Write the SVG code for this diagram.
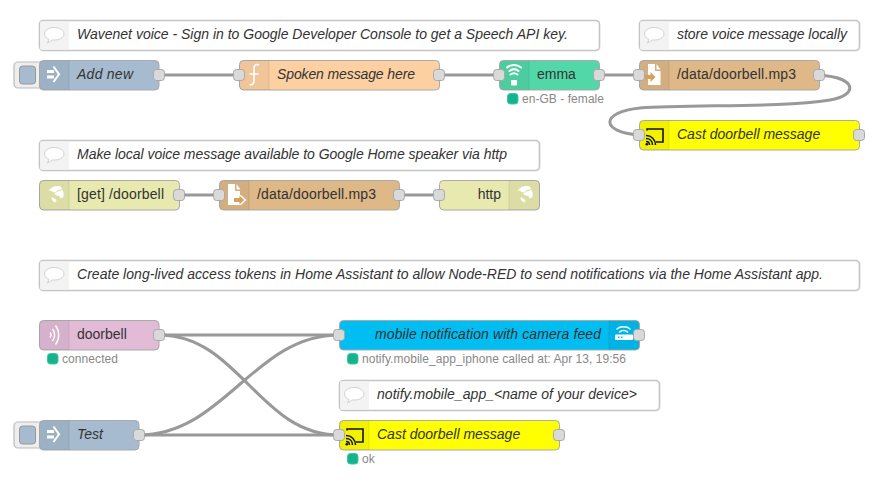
<svg xmlns="http://www.w3.org/2000/svg" xmlns:xlink="http://www.w3.org/1999/xlink" width="894" height="490" viewBox="0 0 894 490">
<style>
text{font-family:"Liberation Sans",Arial,sans-serif;}
.n{stroke:#aaa;stroke-width:1;}
.c{fill:#fff;stroke:#c4c4c4;stroke-width:1.6;}
.ci{fill:#f3f3f3;}
.s{fill:#000;fill-opacity:.05;}
.sep{stroke:#000;stroke-opacity:.08;stroke-width:1;}
.p{fill:#d9d9d9;stroke:#a8a8a8;stroke-width:1;}
.l{font-size:14px;fill:#333;}
.i{font-style:italic;}
.st{font-size:12px;fill:#888;}
.d{fill:#13b38b;stroke:#3fc7a5;stroke-width:1;}
.w{fill:#fff;}
.wl{fill:none;stroke:#fff;stroke-linecap:round;}
.bk{fill:none;stroke:#111;stroke-width:1.6;}
.link{fill:none;stroke:#999;stroke-width:3;}
.btn{fill:#eee;stroke:#bbb;stroke-width:1.2;}
</style>
<defs>
<g id="bubble"><path d="M10 2.5c-6 0-9.500 3-9.500 6.500 0 2.500 2 4.500 4.500 5.500l-1.500 3.500 5-3c7 0.500 11.500-2.500 11.500-6 0-3.500-4-6.500-10-6.500z" fill="#fff" stroke="#d2d2d2" stroke-width="1"/></g>
<g id="arrow"><rect class="w" x="0" y="5.500" width="7" height="3"/><rect class="w" x="0" y="11" width="7" height="3"/><path d="M6.500 2L12 9.800 6.500 17.500" fill="none" stroke="#fff" stroke-width="2"/></g>
<g id="cast"><path class="bk" d="M2 4.500V3h16v13h-7"/><path d="M1 15.500c2 0 3.500 1.500 3.500 3.500M1 12.500c3.800 0 6.500 2.700 6.500 6.500M1 9.500c5.500 0 9.500 4 9.500 9.500" fill="none" stroke="#111" stroke-width="1.500"/><circle cx="1.800" cy="18.200" r="1.300" fill="#111"/></g>
<g id="globe"><path class="w" d="M2.500 7C5 3 10 1 14.500 2.500L16.500 5 12 6 9.500 8.500 6.500 8 5 6.500zM8 9.500L13 7l3.500-1c1.500 2.500 1.500 5.500.5 7.500l-2.500 1-1-2.500-3-.5-1.500-1zM5.500 13l3 1.500 2 2-1 2C7 18 5.500 16 5.500 13z"/></g>
<g id="wifi"><path class="wl" stroke-width="2" d="M1 5.500c4-3.500 10-3.500 14 0M3.500 9c2.800-2.300 6.200-2.300 9 0"/></g>
</defs>
<g id="connectors">
<path class="link" d="M159 75H239"/>
<path class="link" d="M439 75H499"/>
<path class="link" d="M599 75H639"/>
<path class="link" d="M819 75C858 78 858 95 830 100C780 108 690 104 640 108C600 112 600 132 639 135"/>
<path class="link" d="M179 195H219"/>
<path class="link" d="M399 195H439"/>
<path class="link" d="M159 335H339"/>
<path class="link" d="M159 335C239 335 259 435 339 435"/>
<path class="link" d="M139 435C224 435 254 335 339 335"/>
<path class="link" d="M139 435H339"/>
</g>
<g id="comment1"><rect class="c" x="39.500" y="20.500" width="560" height="30" rx="4"/><path class="ci" d="M40.300 21.300h28.700v28.400H40.300z"/><use xlink:href="#bubble" x="44" y="25"/><text class="l i" x="77" y="39">Wavenet voice - Sign in to Google Developer Console to get a Speech API key.</text></g>
<g id="comment2"><rect class="c" x="639.500" y="20.500" width="220" height="30" rx="4"/><path class="ci" d="M640.300 21.300h28.700v28.400H640.300z"/><use xlink:href="#bubble" x="644" y="25"/><text class="l i" x="677" y="39" textLength="170">store voice message locally</text></g>
<g id="inject1"><rect class="btn" x="14" y="62" width="30" height="26" rx="4"/><rect x="19.500" y="66" width="16" height="18" rx="3" fill="#a6bbcf" stroke="#999"/><rect class="n" x="39.500" y="60.500" width="119.500" height="29.500" rx="4" fill="#a6bbcf"/><path class="s" d="M39.500 64.500a4 4 0 0 1 4-4H69v29.500H43.500a4 4 0 0 1-4-4z"/><path class="sep" d="M69 60.500V90"/><use xlink:href="#arrow" x="47" y="64.500"/><text class="l i" x="77" y="79" textLength="56">Add new</text><rect class="p" x="153.500" y="69.500" width="11" height="11" rx="3"/></g>
<g id="function1"><rect class="n" x="239.500" y="60.500" width="200" height="29.500" rx="4" fill="#fdd0a2"/><path class="s" d="M239.500 64.500a4 4 0 0 1 4-4H269v29.500H243.500a4 4 0 0 1-4-4z"/><path class="sep" d="M269 60.500V90"/><path d="M259 65c-4-1.500-5 1-5 4v11c0 3-1 5.500-4.500 4.500M249.500 74h9" fill="none" stroke="#fff" stroke-width="1.600"/><text class="l i" x="277" y="79" textLength="138">Spoken message here</text><rect class="p" x="233.500" y="69.500" width="11" height="11" rx="3"/><rect class="p" x="433.500" y="69.500" width="11" height="11" rx="3"/></g>
<g id="emma"><rect class="n" x="499.500" y="60.500" width="100" height="29.500" rx="4" fill="#52d8a8"/><path class="s" d="M499.500 64.500a4 4 0 0 1 4-4H529v29.500H503.500a4 4 0 0 1-4-4z"/><path class="sep" d="M529 60.500V90"/><use xlink:href="#wifi" x="506" y="62"/><path class="wl" stroke-width="2" d="M510.500 74.500c2-1.500 5-1.500 7 0"/><rect class="w" x="511" y="80" width="6" height="5.500" rx="1"/><text class="l" x="537" y="79">emma</text><rect class="p" x="493.500" y="69.500" width="11" height="11" rx="3"/><rect class="p" x="593.500" y="69.500" width="11" height="11" rx="3"/><rect class="d" x="507.500" y="93.500" width="10.500" height="10.500" rx="3"/><text class="st" x="522" y="103" textLength="82">en-GB - female</text></g>
<g id="file1"><rect class="n" x="639.500" y="60.500" width="180" height="29.500" rx="4" fill="#deb887"/><path class="s" d="M639.500 64.500a4 4 0 0 1 4-4H669v29.500H643.500a4 4 0 0 1-4-4z"/><path class="sep" d="M669 60.500V90"/><path class="w" d="M648 64h7v7h5.500v14H648zM656.500 64l4 5.500h-4z"/><path d="M645 75h5.500v-3l5 5-5 5v-3H645z" fill="#d9a05c"/><text class="l" x="677" y="79" textLength="119">/data/doorbell.mp3</text><rect class="p" x="633.500" y="69.500" width="11" height="11" rx="3"/><rect class="p" x="813.500" y="69.500" width="11" height="11" rx="3"/></g>
<g id="cast1"><rect class="n" x="639.500" y="120.500" width="220" height="29.500" rx="4" fill="#ffff00"/><path class="s" d="M639.500 124.500a4 4 0 0 1 4-4H669v29.500H643.500a4 4 0 0 1-4-4z"/><path class="sep" d="M669 120.500V150"/><use xlink:href="#cast" x="645" y="126"/><text class="l i" x="677" y="139">Cast doorbell message</text><rect class="p" x="633.500" y="129.500" width="11" height="11" rx="3"/><rect class="p" x="853.500" y="129.500" width="11" height="11" rx="3"/></g>
<g id="comment3"><rect class="c" x="39.500" y="140.500" width="500" height="30" rx="4"/><path class="ci" d="M40.300 141.300h28.700v28.400H40.300z"/><use xlink:href="#bubble" x="44" y="145"/><text class="l i" x="77" y="159" textLength="430">Make local voice message available to Google Home speaker via http</text></g>
<g id="httpin"><rect class="n" x="39.500" y="180.500" width="140" height="29.500" rx="4" fill="#e7e9ae"/><path class="s" d="M39.500 184.500a4 4 0 0 1 4-4H69v29.500H43.500a4 4 0 0 1-4-4z"/><path class="sep" d="M69 180.500V210"/><use xlink:href="#globe" x="46" y="184"/><text class="l" x="77" y="199" textLength="87">[get] /doorbell</text><rect class="p" x="173.500" y="189.500" width="11" height="11" rx="3"/></g>
<g id="file2"><rect class="n" x="219.500" y="180.500" width="180" height="29.500" rx="4" fill="#deb887"/><path class="s" d="M219.500 184.500a4 4 0 0 1 4-4H249v29.500H223.500a4 4 0 0 1-4-4z"/><path class="sep" d="M249 180.500V210"/><path class="w" d="M228 184h7v7h5v4h1l5.500 5-5.500 5h-1v0H228zM236.500 184l4 5.500h-4z"/><path d="M234 198h5.500v-2.500l4.500 4.500-4.500 4.500v-2.500H234z" fill="#d9a05c"/><text class="l" x="257" y="199" textLength="119">/data/doorbell.mp3</text><rect class="p" x="213.500" y="189.500" width="11" height="11" rx="3"/><rect class="p" x="393.500" y="189.500" width="11" height="11" rx="3"/></g>
<g id="httpout"><rect class="n" x="439.500" y="180.500" width="100" height="29.500" rx="4" fill="#e7e9ae"/><path class="s" d="M509 180.500h26.500a4 4 0 0 1 4 4V206a4 4 0 0 1-4 4H509z"/><path class="sep" d="M509 180.500V210"/><use xlink:href="#globe" x="515" y="184"/><text class="l" x="501" y="199" text-anchor="end">http</text><rect class="p" x="433.500" y="189.500" width="11" height="11" rx="3"/></g>
<g id="comment4"><rect class="c" x="39.500" y="260.500" width="820" height="30" rx="4"/><path class="ci" d="M40.300 261.300h28.700v28.400H40.300z"/><use xlink:href="#bubble" x="44" y="265"/><text class="l i" x="77" y="279" textLength="746">Create long-lived access tokens in Home Assistant to allow Node-RED to send notifications via the Home Assistant app.</text></g>
<g id="doorbell"><rect class="n" x="39.500" y="320.500" width="119.500" height="29.500" rx="4" fill="#e2bbd6"/><path class="s" d="M39.500 324.500a4 4 0 0 1 4-4H69v29.500H43.500a4 4 0 0 1-4-4z"/><path class="sep" d="M69 320.500V350"/><path d="M50 332.500c1.300 1.500 1.300 3.500 0 5M52.500 329c2.800 3.500 2.800 8.500 0 12M55.500 325.500c4.300 5.500 4.300 13.500 0 19" fill="none" stroke="#fff" stroke-width="1.400"/><text class="l" x="77" y="339">doorbell</text><rect class="p" x="153.500" y="329.500" width="11" height="11" rx="3"/><rect class="d" x="47.500" y="353.500" width="10.500" height="10.500" rx="3"/><text class="st" x="62" y="363" textLength="56">connected</text></g>
<g id="inject2"><rect class="btn" x="14" y="422" width="30" height="26" rx="4"/><rect x="19.500" y="426" width="16" height="18" rx="3" fill="#a6bbcf" stroke="#999"/><rect class="n" x="39.500" y="420.500" width="99.500" height="29.500" rx="4" fill="#a6bbcf"/><path class="s" d="M39.500 424.500a4 4 0 0 1 4-4H69v29.500H43.500a4 4 0 0 1-4-4z"/><path class="sep" d="M69 420.500V450"/><use xlink:href="#arrow" x="47" y="424.500"/><text class="l i" x="77" y="439">Test</text><rect class="p" x="133.500" y="429.500" width="11" height="11" rx="3"/></g>
<g id="mobile"><rect class="n" x="339.500" y="320.500" width="300" height="29.500" rx="4" fill="#00bdf2"/><path class="s" d="M609 320.500h26.500a4 4 0 0 1 4 4V346a4 4 0 0 1-4 4H609z"/><path class="sep" d="M609 320.500V350"/><path class="wl" stroke-width="1.500" d="M617 329c3-3 10-3 13 0M619.500 332c2-2 6-2 8 0"/><rect class="w" x="615" y="334.500" width="18" height="5.500" rx="1"/><path d="M618 336.500h1.500v1.500H618zM621 336.500h1.500v1.500H621z" fill="#00bdf2"/><text class="l i" x="375" y="339" textLength="226">mobile notification with camera feed</text><rect class="p" x="333.500" y="329.500" width="11" height="11" rx="3"/><rect class="p" x="633.500" y="329.500" width="11" height="11" rx="3"/><rect class="d" x="347.500" y="353.500" width="10.500" height="10.500" rx="3"/><text class="st" x="362" y="363" textLength="264">notify.mobile_app_iphone called at: Apr 13, 19:56</text></g>
<g id="comment5"><rect class="c" x="339.500" y="380.500" width="320" height="30" rx="4"/><path class="ci" d="M340.300 381.300h28.700v28.400H340.300z"/><use xlink:href="#bubble" x="344" y="385"/><text class="l i" x="377" y="399" textLength="260">notify.mobile_app_&lt;name of your device&gt;</text></g>
<g id="cast2"><rect class="n" x="339.500" y="420.500" width="220" height="29.500" rx="4" fill="#ffff00"/><path class="s" d="M339.500 424.500a4 4 0 0 1 4-4H369v29.500H343.500a4 4 0 0 1-4-4z"/><path class="sep" d="M369 420.500V450"/><use xlink:href="#cast" x="345" y="426"/><text class="l i" x="377" y="439">Cast doorbell message</text><rect class="p" x="333.500" y="429.500" width="11" height="11" rx="3"/><rect class="p" x="553.500" y="429.500" width="11" height="11" rx="3"/><rect class="d" x="347.500" y="453.500" width="10.500" height="10.500" rx="3"/><text class="st" x="362" y="463">ok</text></g>
</svg>
